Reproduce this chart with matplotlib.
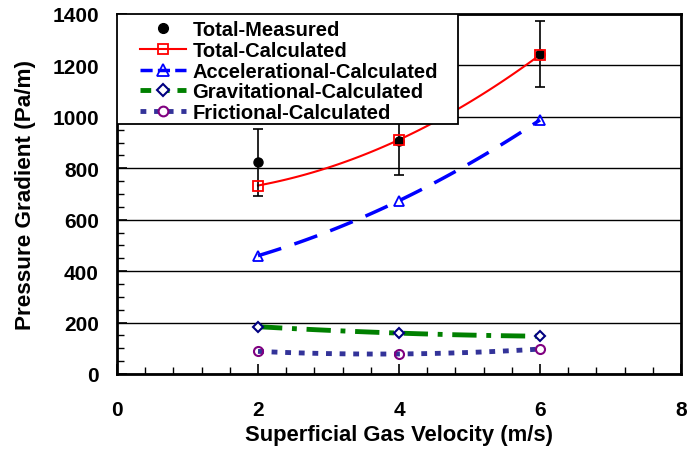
import numpy as np
import matplotlib
matplotlib.use("Agg")
import matplotlib.pyplot as plt
from matplotlib.patches import Rectangle
from matplotlib.ticker import MultipleLocator

# ---- data ----
velocity = [2, 4, 6]
total_measured = [823, 907, 1245]
measured_err = [130, 132, 129]
total_calc = [733, 911, 1241]
accel_calc = [460, 674, 988]
grav_calc = [184, 159, 147]
fric_calc = [88, 78, 97]

x_ticks = [0, 2, 4, 6, 8]
y_ticks = [0, 200, 400, 600, 800, 1000, 1200, 1400]

plt.rcParams['font.family'] = ['Liberation Sans', 'DejaVu Sans']
plt.rcParams['font.weight'] = 'bold'

fig = plt.figure(figsize=(6.88, 4.52), dpi=100)
ax = fig.add_axes([117/688, 77/452, 564/688, 360/452])


def smooth(xs, ys, n=100):
    c = np.polyfit(xs, ys, len(xs) - 1)
    xx = np.linspace(min(xs), max(xs), n)
    return xx, np.polyval(c, xx)


# gridlines
ax.set_axisbelow(True)
ax.yaxis.grid(True, color='black', linewidth=1.0)

# lines
xx, yy = smooth(velocity, total_calc)
ax.plot(xx, yy, color='#ff0000', lw=1.5, zorder=3)
xx, yy = smooth(velocity, accel_calc)
ax.plot(xx, yy, color='#0000ff', lw=2.5, dashes=(7, 4), zorder=3)
xx, yy = smooth(velocity, grav_calc)
ax.plot(xx, yy, color='#008000', lw=3.5, dashes=(5, 2, 1, 2), zorder=3)
xx, yy = smooth(velocity, fric_calc)
ax.plot(xx, yy, color='#333399', lw=3.5, dashes=(1.2, 1.6), zorder=3)

# error bars + measured
ax.errorbar(velocity, total_measured, yerr=measured_err, fmt='none', ecolor='black',
            elinewidth=1.2, capsize=3.3, capthick=1.2, zorder=4)
ax.plot(velocity, total_measured, 'o', color='black', ms=6.5, zorder=5)

# markers
ax.plot(velocity, total_calc, 's', mfc='none', mec='#ff0000', ms=7, mew=1.3, zorder=6)
ax.plot(velocity, accel_calc, '^', mfc='none', mec='#0000ff', ms=7.5, mew=1.3, zorder=6)
ax.plot(velocity, grav_calc, 'D', mfc='white', mec='#000080', ms=5.5, mew=1.5, zorder=6)
ax.plot(velocity, fric_calc, 'o', mfc='none', mec='#800080', ms=6.5, mew=1.5, zorder=6)

# legend handles
h1, = ax.plot([], [], 'o', color='black', ms=7)
h2, = ax.plot([], [], '-s', color='#ff0000', mfc='none', mec='#ff0000', ms=7.5, lw=1.5, mew=1.3)
h3, = ax.plot([], [], '^', color='#0000ff', mfc='none', ms=8, lw=2.5, mew=1.3, ls=(0, (3.5, 1.5)))
h4, = ax.plot([], [], 'D', color='#008000', mfc='white', mec='#000080', ms=6, mew=1.5, lw=3.5,
              ls=(0, (2.2, 1.6)))
h5, = ax.plot([], [], 'o', color='#333399', mfc='white', mec='#800080', ms=7, mew=1.5, lw=3.5,
              ls=(0, (1.2, 1.6)))
labels = ['Total-Measured', 'Total-Calculated', 'Accelerational-Calculated',
          'Gravitational-Calculated', 'Frictional-Calculated']

frame = Rectangle((0, (375 - 125) / 360), (458 - 117) / 564, 1 - (375 - 125) / 360,
                  transform=ax.transAxes, facecolor='white', edgecolor='black', lw=1.3, zorder=7)
ax.add_patch(frame)
leg = ax.legend([h1, h2, h3, h4, h5], labels, loc='upper left',
                bbox_to_anchor=(23 / 564, 1 - 6 / 360), frameon=False, borderpad=0,
                borderaxespad=0,
                prop={'family': 'Liberation Sans', 'weight': 'bold', 'size': 14.5},
                handlelength=2.3, handletextpad=0.3, labelspacing=0.09)
leg.set_zorder(8)

# axes
ax.set_xlim(0, 8)
ax.set_ylim(0, 1400)
ax.set_xticks(x_ticks)
ax.set_yticks(y_ticks)
ax.xaxis.set_minor_locator(MultipleLocator(0.4))
ax.yaxis.set_minor_locator(MultipleLocator(50))
ax.tick_params(which='both', direction='in', top=False, right=False, color='black')
ax.tick_params(which='major', length=7, width=1.2)
ax.tick_params(which='minor', length=5, width=1.0)
ax.tick_params(axis='x', which='major', pad=19, labelsize=15)
ax.tick_params(axis='y', which='major', pad=13, labelsize=15)
for lab in ax.get_xticklabels() + ax.get_yticklabels():
    lab.set_fontweight('bold')
for s in ax.spines.values():
    s.set_linewidth(2)
    s.set_color('black')

ax.set_xlabel('Superficial Gas Velocity (m/s)', fontsize=15.8, fontweight='bold', labelpad=3)
ax.set_ylabel('Pressure Gradient (Pa/m)', fontsize=16.2, fontweight='bold', labelpad=12)

fig.savefig('out.png', dpi=100)
